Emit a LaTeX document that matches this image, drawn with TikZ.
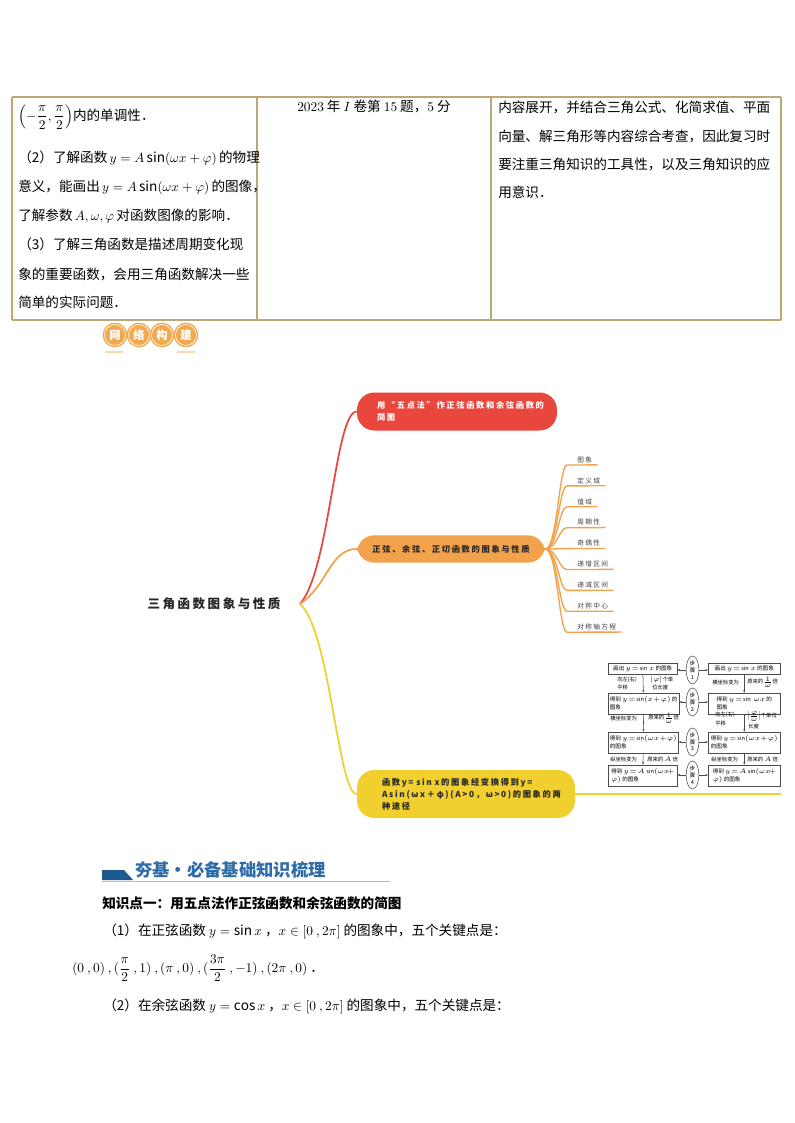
\documentclass[tikz,border=0pt]{standalone}
\usepackage{amsmath}
\usepackage{fontspec}
\setmainfont{Noto Sans CJK SC}
\newfontfamily\mmfont{Noto Sans CJK SC}[LetterSpace=20]
\usetikzlibrary{positioning,arrows.meta,shapes.geometric}
\definecolor{tabline}{HTML}{B9A878}
\definecolor{badgeorange}{HTML}{F2A94E}
\definecolor{mmred}{HTML}{E9463D}
\definecolor{mmorange}{HTML}{F2A24B}
\definecolor{mmyellow}{HTML}{F1CF2E}
\definecolor{hdblue}{HTML}{2F6BA8}
\definecolor{hddark}{HTML}{1F5A8F}
\definecolor{hdline}{HTML}{A9BDD3}
\begin{document}
\begin{tikzpicture}[x=0.75pt, y=-0.75pt,
  body/.style={anchor=west, inner sep=0pt, font=\fontsize{10.2}{12}\selectfont},
  rule/.style={draw=tabline, line width=0.8pt},
  badge/.style={circle, fill=badgeorange, minimum size=18.5pt, inner sep=0pt, text=white, font=\fontsize{8.5}{8.5}\selectfont\bfseries},
  topic/.style={rounded corners=13pt, inner ysep=0pt, align=left, font=\mmfont\fontsize{6.2}{9}\selectfont\bfseries},
  leaf/.style={anchor=south west, inner sep=0pt, text=black!75, font=\mmfont\fontsize{5}{6}\selectfont},
  leafline/.style={draw=mmorange, line width=1pt},
  fbox/.style={draw=black!70, line width=0.4pt, inner xsep=1.2pt, inner ysep=0pt, align=left, anchor=west, font=\fontsize{4.2}{6}\selectfont},
  stepoval/.style={ellipse, draw=black!70, line width=0.4pt, inner sep=0pt, minimum width=9.5pt, minimum height=21pt, align=center, fill=white, font=\fontsize{4.2}{5}\selectfont},
  note/.style={anchor=west, inner sep=0pt, font=\fontsize{4}{5}\selectfont},
  flow/.style={-{Stealth[length=2pt,width=1.6pt]}, line width=0.4pt, draw=black!70},
]
\useasboundingbox[fill=white] (0,0) rectangle (794,1123);

% table
\draw[rule] (12,97) -- (781,97) (12,320) -- (781,320);
\draw[rule] (12,97) -- (12,320) (257,97) -- (257,320) (491,97) -- (491,320) (781,97) -- (781,320);
\node[body] (a1) at (18,117) {$\left(-\dfrac{\pi}{2},\dfrac{\pi}{2}\right)$内的单调性．};
\node[body] (a2) at (18,158) {（2）了解函数$\,y = A\sin(\omega x+\varphi)\,$的物理};
\node[body] (a3) at (18,187) {意义，能画出$\,y = A\sin(\omega x+\varphi)\,$的图像，};
\node[body] (a4) at (18,216) {了解参数$\,A,\omega,\varphi\,$对函数图像的影响．};
\node[body] (a5) at (18,244) {（3）了解三角函数是描述周期变化现};
\node[body] (a6) at (18,274) {象的重要函数，会用三角函数解决一些};
\node[body] (a7) at (18,302) {简单的实际问题．};
\node[body, anchor=center] (b1) at (374,106) {$2023$ 年 $I$ 卷第 $15$ 题，$5$ 分};
\node[body] (c1) at (498,107) {内容展开，并结合三角公式、化简求值、平面};
\node[body] (c2) at (498,136) {向量、解三角形等内容综合考查，因此复习时};
\node[body] (c3) at (498,164) {要注重三角知识的工具性，以及三角知识的应};
\node[body] (c4) at (498,192) {用意识．};

% badge
\foreach \x/\c [count=\i] in {115/网,139/络,162/构,186/建} {
  \node[badge] (w\i) at (\x,335) {\c};
  \draw[white, line width=0.5pt] (w\i.center) circle (10.5);
}
\draw[badgeorange!45, line width=1.2pt] (105,352) -- (123,352) (177,352) -- (195,352);

% mind map
\node[inner sep=0pt, text=black!85, font=\mmfont\fontsize{9.4}{11}\selectfont\bfseries] (root) at (214,604) {三角函数图象与性质};
\coordinate (hub) at (300,604);
\node[topic, fill=mmred, text=white, text width=120pt, inner xsep=15pt, minimum height=28.5pt] (five) at (457,411.5) {用“五点法”作正弦函数和余弦函数的\\简图};
\node[topic, fill=mmorange, text=black!85, text width=119pt, inner xsep=11pt, minimum height=20.5pt, align=center] (prop) at (451,549) {正弦、余弦、正切函数的图象与性质};
\node[topic, fill=mmyellow, text=black!85, text width=126pt, inner xsep=18.75pt, minimum height=36pt] (trans) at (466,794) {函数y= sin x的图象经变换得到y=\\Asin(ωx＋φ)(A>0，ω>0)的图象的两\\种途径};
\draw[mmred, line width=1.3pt] (hub) .. controls (330,570) and (335,411.5) .. (five.west);
\draw[mmorange, line width=1.3pt] (hub) .. controls (328,585) and (330,549) .. (prop.west);
\draw[mmyellow, line width=1.3pt] (hub) .. controls (330,630) and (338,794) .. (trans.west);
\coordinate (tail) at (781,794);
\draw[mmyellow, line width=1.3pt] (trans.east) -- (tail);
\foreach \t [count=\i] in {图象,定义域,值域,周期性,奇偶性,递增区间,递减区间,对称中心,对称轴方程} {
  \pgfmathsetmacro\yy{465+20.9*(\i-1)}
  \node[leaf] (p\i) at (577,\yy-2) {\t};
  \draw[leafline] (prop.east) .. controls +(12,0) and +(-8,0) .. (567,\yy) -- ([xshift=4pt,yshift=-1.4pt]p\i.south east);
}

% flow chart
\node[fbox, minimum width=51.75pt, minimum height=8.25pt] (l1) at (608,668.5) {画出 $y\!=\!\sin x$ 的图象};
\node[fbox, minimum width=54pt, minimum height=8.25pt] (r1) at (708,668.5) {画出 $y\!=\!\sin x$ 的图象};
\node[fbox, minimum width=51.75pt, minimum height=15.75pt] (l2) at (608,703.5) {得到 $y\!=\!\sin(x\!+\!\varphi)$ 的\\图象};
\node[fbox, minimum width=54pt, minimum height=15.75pt] (r2) at (708,703.5) {得到 $y\!=\!\sin\ \omega x$ 的\\图象};
\node[fbox, minimum width=51.75pt, minimum height=15.75pt] (l3) at (608,742.5) {得到 $y\!=\!\sin(\omega x\!+\!\varphi)$\\的图象};
\node[fbox, minimum width=54pt, minimum height=15.75pt] (r3) at (708,742.5) {得到 $y\!=\!\sin(\omega x\!+\!\varphi)$\\的图象};
\node[fbox, minimum width=51.75pt, minimum height=15.75pt] (l4) at (608,775.5) {得到 $y\!=\!A\sin(\omega x\!+$\\$\varphi)$ 的图象\hspace{10pt}};
\node[fbox, minimum width=54pt, minimum height=15.75pt] (r4) at (708,775.5) {得到 $y\!=\!A\sin(\omega x\!+$\\$\varphi)$ 的图象\hspace{10pt}};
\foreach \i/\yc in {1/670,2/702,3/742,4/775} {
  \node[stepoval] (s\i) at (692.5,\yc) {步\\骤\\\i};
  \draw[flow] (s\i) -- (s\i -| l\i.east);
  \draw[flow] (s\i) -- (s\i -| r\i.west);
}
\foreach \i/\j in {1/2,2/3,3/4} {
  \draw[flow] (l\i) -- (l\j);
  \draw[flow] (r\i) -- (r\j);
}
\node[note] (n1) at (617,680) {向左(右)};
\node[note] (n2) at (617,687) {平移};
\node[note] (n3) at (650,680) {$|\varphi|$个单};
\node[note] (n4) at (652,687) {位长度};
\node[note] (n5) at (712,682) {横坐标变为};
\node[note] (n6) at (747,682) {原来的$\frac{1}{\omega}$倍};
\node[note] (n7) at (610,718) {横坐标变为};
\node[note] (n8) at (648,718) {原来的$\frac{1}{\omega}$倍};
\node[note] (n9) at (715,715) {向左(右)};
\node[note] (n10) at (715,723) {平移};
\node[note] (n11) at (747,716) {$\left|\frac{\varphi}{\omega}\right|$个单位};
\node[note] (n12) at (748,726) {长度};
\node[note] (n13) at (610,759) {纵坐标变为};
\node[note] (n14) at (647,759) {原来的 $A$ 倍};
\node[note] (n15) at (711,759) {纵坐标变为};
\node[note] (n16) at (747,759) {原来的 $A$ 倍};

% knowledge section
\fill[hddark] (102,870) -- (124,870) -- (133,880) -- (102,880) -- cycle;
\draw[hdline, line width=0.6pt] (102,881) -- (390,881);
\node[anchor=west, inner sep=0pt, text=hdblue, font=\fontsize{13}{15}\selectfont\bfseries] (hd) at (135,870) {夯基·必备基础知识梳理};
\node[body, font=\fontsize{10.2}{12}\selectfont\bfseries] (k1) at (102,903) {知识点一：用五点法作正弦函数和余弦函数的简图};
\node[body] (k2) at (103,931) {（1）在正弦函数 $y=\sin x$ ，$x\in[0\ ,2\pi]$ 的图象中，五个关键点是：};
\node[body] (k3) at (72,968) {$(0\ ,0)\ ,(\dfrac{\pi}{2}\ ,1)\ ,(\pi\ ,0)\ ,(\dfrac{3\pi}{2}\ ,-1)\ ,(2\pi\ ,0)$ ．};
\node[body] (k4) at (103,1006) {（2）在余弦函数 $y=\cos x$ ，$x\in[0\ ,2\pi]$ 的图象中，五个关键点是：};
\end{tikzpicture}
\end{document}
